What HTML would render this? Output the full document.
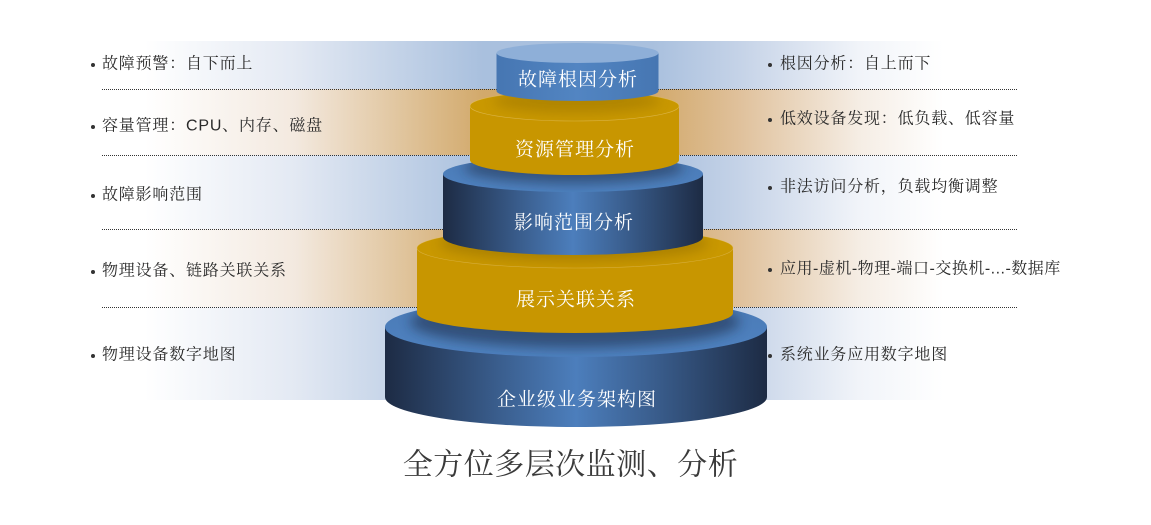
<!DOCTYPE html>
<html><head><meta charset="utf-8"><style>
html,body{margin:0;padding:0;background:#fff;}
svg{display:block;}
.t{font-family:"Liberation Sans","Noto Serif CJK SC",serif;font-size:16px;fill:#2a2a2a;letter-spacing:0.8px;}
.c{font-family:"Liberation Serif","Noto Serif CJK SC",serif;font-size:19px;fill:#fff;letter-spacing:1px;}
</style></head><body>
<svg width="1151" height="525" viewBox="0 0 1151 525" xmlns="http://www.w3.org/2000/svg">
<defs>
<linearGradient id="bb" x1="60" y1="0" x2="1000" y2="0" gradientUnits="userSpaceOnUse">
<stop offset="0" stop-color="#fff"/><stop offset="0.09" stop-color="#fff"/>
<stop offset="0.25" stop-color="#e3e9f3"/>
<stop offset="0.45" stop-color="#a9c0de"/><stop offset="0.63" stop-color="#a9c0de"/>
<stop offset="0.72" stop-color="#c4d2e7"/><stop offset="0.85" stop-color="#f1f4f9"/>
<stop offset="0.94" stop-color="#fff"/><stop offset="1" stop-color="#fff"/>
</linearGradient>
<linearGradient id="bt" x1="60" y1="0" x2="1000" y2="0" gradientUnits="userSpaceOnUse">
<stop offset="0" stop-color="#fff"/><stop offset="0.09" stop-color="#fff"/>
<stop offset="0.25" stop-color="#f3e9df"/>
<stop offset="0.45" stop-color="#d2a96b"/><stop offset="0.63" stop-color="#d2a96b"/>
<stop offset="0.72" stop-color="#dfc09a"/><stop offset="0.85" stop-color="#f5ede4"/>
<stop offset="0.94" stop-color="#fff"/><stop offset="1" stop-color="#fff"/>
</linearGradient>
<linearGradient id="wb" x1="0" y1="0" x2="1" y2="0">
<stop offset="0" stop-color="#1d2b44"/><stop offset="0.3" stop-color="#3a5e8e"/>
<stop offset="0.5" stop-color="#4c7ebc"/><stop offset="0.7" stop-color="#3a5e8e"/>
<stop offset="1" stop-color="#1d2b44"/>
</linearGradient>
<linearGradient id="w1" x1="0" y1="0" x2="1" y2="0">
<stop offset="0" stop-color="#4676b2"/><stop offset="0.5" stop-color="#5285c2"/>
<stop offset="1" stop-color="#4676b2"/>
</linearGradient>
<linearGradient id="tb" x1="0" y1="0" x2="0" y2="1">
<stop offset="0" stop-color="#4a7ab6"/><stop offset="1" stop-color="#4f82c0"/>
</linearGradient>
<filter id="blur" x="-20%" y="-50%" width="140%" height="200%"><feGaussianBlur stdDeviation="6"/></filter>
<clipPath id="c5"><ellipse cx="576" cy="327" rx="191" ry="30"/></clipPath>
<clipPath id="c4"><ellipse cx="575" cy="248" rx="158" ry="20"/></clipPath>
<clipPath id="c3"><ellipse cx="573" cy="174" rx="130" ry="18"/></clipPath>
<clipPath id="c2"><ellipse cx="574.5" cy="106" rx="104.5" ry="15"/></clipPath>
</defs>

<!-- bands -->
<rect x="60" y="41" width="940" height="48" fill="url(#bb)"/>
<rect x="60" y="89" width="940" height="66" fill="url(#bt)"/>
<rect x="60" y="155" width="940" height="74" fill="url(#bb)"/>
<rect x="60" y="229" width="940" height="78" fill="url(#bt)"/>
<rect x="60" y="307" width="940" height="93" fill="url(#bb)"/>

<!-- dotted lines -->
<g stroke="#333" stroke-width="1" stroke-dasharray="1 1">
<line x1="102" y1="89.5" x2="1018" y2="89.5"/>
<line x1="102" y1="155.5" x2="1018" y2="155.5"/>
<line x1="102" y1="229.5" x2="1018" y2="229.5"/>
<line x1="102" y1="307.5" x2="1018" y2="307.5"/>
</g>

<!-- bullets -->
<g fill="#333">
<circle cx="93" cy="65" r="2"/><circle cx="93" cy="127" r="2"/><circle cx="93" cy="196" r="2"/><circle cx="93" cy="272" r="2"/><circle cx="93" cy="356" r="2"/>
<circle cx="770" cy="65" r="2"/><circle cx="770" cy="120" r="2"/><circle cx="770" cy="188" r="2"/><circle cx="770" cy="270" r="2"/><circle cx="770" cy="356" r="2"/>
</g>
<g dominant-baseline="central">
<text x="102" y="64" class="t">故障预警：自下而上</text>
<text x="102" y="126" class="t">容量管理：CPU、内存、磁盘</text>
<text x="102" y="195" class="t">故障影响范围</text>
<text x="102" y="271" class="t">物理设备、链路关联关系</text>
<text x="102" y="355" class="t">物理设备数字地图</text>
<text x="780" y="64" class="t">根因分析：自上而下</text>
<text x="780" y="119" class="t">低效设备发现：低负载、低容量</text>
<text x="780" y="187" class="t">非法访问分析，负载均衡调整</text>
<text x="780" y="269" class="t" style="letter-spacing:0.5px">应用-虚机-物理-端口-交换机-...-数据库</text>
<text x="780" y="355" class="t">系统业务应用数字地图</text>
</g>

<!-- tier 5 -->
<path d="M385,327 L385,397 A191,30 0 0 0 767,397 L767,327 Z" fill="url(#wb)"/>
<ellipse cx="576" cy="327" rx="191" ry="30" fill="url(#tb)"/>
<g clip-path="url(#c5)"><ellipse cx="575" cy="322" rx="165" ry="26" fill="#1a2a45" opacity="0.55" filter="url(#blur)"/></g>

<!-- tier 4 -->
<path d="M417,248 L417,313 A158,20 0 0 0 733,313 L733,248 Z" fill="#c89600"/>
<ellipse cx="575" cy="248" rx="158" ry="20" fill="#c99800" stroke="#e2c062" stroke-width="0.6" stroke-opacity="0.6"/>
<g clip-path="url(#c4)"><ellipse cx="574" cy="243" rx="135" ry="18" fill="#6a4f00" opacity="0.3" filter="url(#blur)"/></g>

<!-- tier 3 -->
<path d="M443,174 L443,237 A130,18 0 0 0 703,237 L703,174 Z" fill="url(#wb)"/>
<ellipse cx="573" cy="174" rx="130" ry="18" fill="url(#tb)"/>
<g clip-path="url(#c3)"><ellipse cx="574" cy="168" rx="110" ry="16" fill="#1a2a45" opacity="0.5" filter="url(#blur)"/></g>

<!-- tier 2 -->
<path d="M470,106 L470,160 A104.5,15 0 0 0 679,160 L679,106 Z" fill="#c89600"/>
<ellipse cx="574.5" cy="106" rx="104.5" ry="15" fill="#c99800" stroke="#e2c062" stroke-width="0.6" stroke-opacity="0.7"/>
<g clip-path="url(#c2)"><ellipse cx="577" cy="101" rx="84" ry="12" fill="#6a4f00" opacity="0.25" filter="url(#blur)"/></g>

<!-- tier 1 -->
<path d="M496.5,53 L496.5,91 A81,10 0 0 0 658.5,91 L658.5,53 Z" fill="url(#w1)"/>
<ellipse cx="577.5" cy="53" rx="81" ry="10" fill="#8eafd8"/>

<!-- labels -->
<g dominant-baseline="central" text-anchor="middle">
<text x="578" y="80" class="c">故障根因分析</text>
<text x="575" y="150" class="c">资源管理分析</text>
<text x="574" y="223" class="c">影响范围分析</text>
<text x="576" y="300" class="c">展示关联关系</text>
<text x="577" y="400" class="c">企业级业务架构图</text>
</g>

<!-- title -->
<text x="570.5" y="465" text-anchor="middle" dominant-baseline="central" style='font-family:"Liberation Serif","Noto Serif CJK SC",serif;font-size:30px;fill:#3a3a3a;letter-spacing:0.5px;'>全方位多层次监测、分析</text>
</svg>
</body></html>
